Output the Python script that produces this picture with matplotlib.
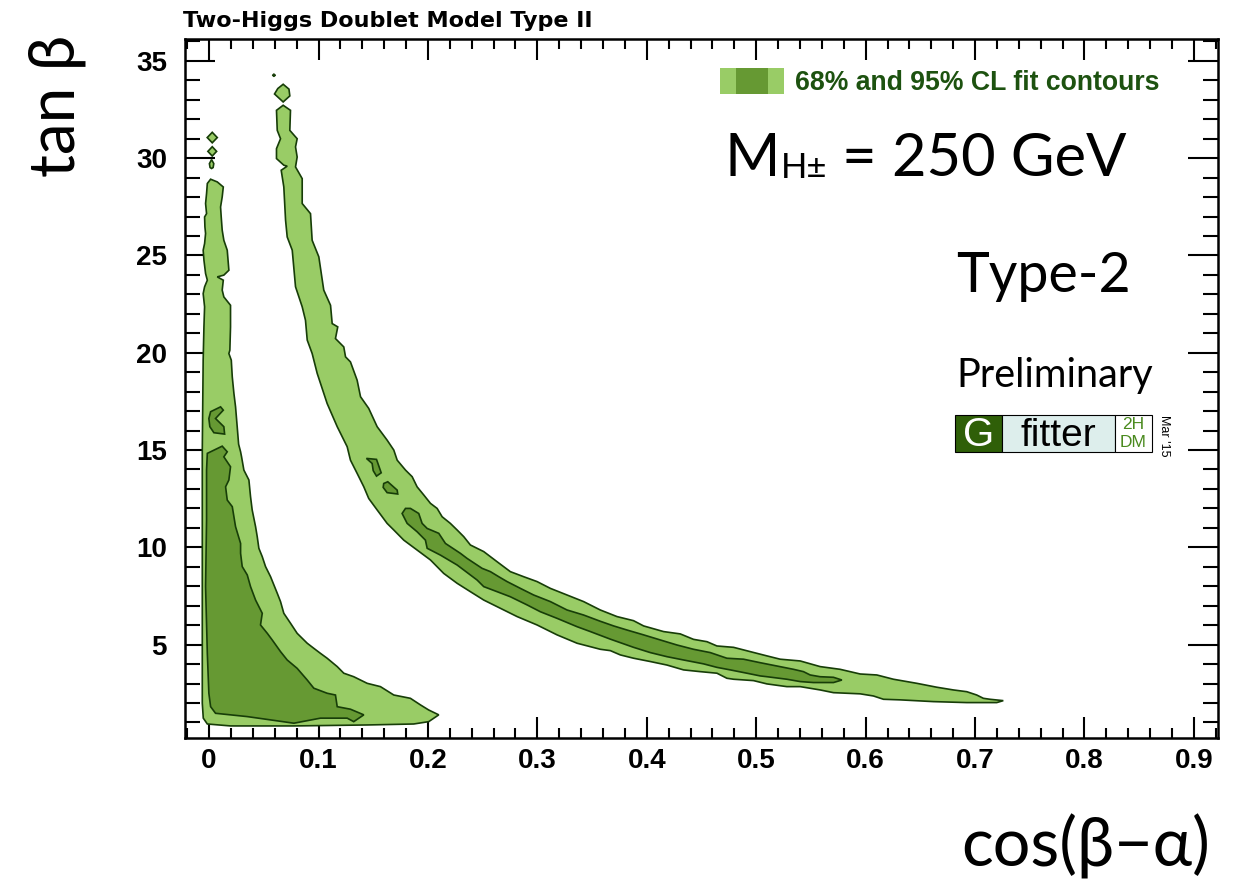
import matplotlib
matplotlib.use("Agg")
import matplotlib.pyplot as plt
from matplotlib.patches import Rectangle
from matplotlib.legend_handler import HandlerBase
from matplotlib.ticker import MultipleLocator, FixedLocator, FuncFormatter

# ---------------- data ----------------
title = "Two-Higgs Doublet Model Type II"
x_label = "cos(β−α)"
y_label = "tan β"
legend_label = "68% and 95% CL fit contours"
x_major_ticks = [0, 0.1, 0.2, 0.3, 0.4, 0.5, 0.6, 0.7, 0.8, 0.9]
y_major_ticks = [5, 10, 15, 20, 25, 30, 35]

# 95% CL region near alignment limit (light)
left95_x = [0.0014, 0.0075, 0.013, 0.012, 0.0105, 0.0111, 0.012, 0.0135, 0.0166, 0.0181, 0.0135, 0.0075,
            0.013, 0.012, 0.0135, 0.0196, 0.0196, 0.019, 0.0181, 0.0203, 0.0212, 0.0227, 0.0242, 0.0257,
            0.027, 0.0288, 0.0297, 0.0318, 0.0364, 0.0379, 0.0394, 0.0425, 0.044, 0.0455, 0.0486, 0.0516,
            0.0562, 0.0623, 0.0653, 0.0683, 0.0744, 0.0805, 0.0897, 0.0957, 0.1018, 0.1079, 0.1171, 0.1231,
            0.1322, 0.1445, 0.1566, 0.1688, 0.184, 0.1932, 0.2007, 0.2099, 0.2007, 0.187, 0.1445, 0.0775,
            0.0196, -0.0016, -0.0053, -0.0062, -0.0062, -0.0062, -0.0057, -0.0054, -0.0047, -0.0041, -0.0054,
            -0.0041, -0.0016, -0.0032, -0.0047, -0.0054, -0.0041, -0.0032, -0.0038, -0.0041, -0.0023, -0.0032,
            -0.0023, -0.0016]
left95_y = [28.92, 28.78, 28.52, 28.01, 27.49, 26.98, 26.30, 25.78, 25.27, 24.24, 23.99, 23.90,
            23.73, 23.22, 22.87, 22.44, 21.33, 20.13, 19.96, 19.62, 18.76, 17.91, 17.22, 16.20,
            15.30, 14.91, 14.65, 13.97, 13.46, 12.60, 11.92, 11.06, 10.55, 9.95, 9.52, 9.01,
            8.49, 7.64, 7.21, 6.61, 6.10, 5.58, 5.07, 4.81, 4.55, 4.30, 3.87, 3.53,
            3.35, 3.01, 2.84, 2.41, 2.24, 1.90, 1.64, 1.39, 1.04, 0.92, 0.87, 0.82,
            0.82, 0.92, 1.22, 1.99, 8.00, 15.00, 17.91, 19.62, 21.33, 22.36, 23.04,
            23.39, 23.73, 24.07, 24.76, 25.27, 25.61, 26.13, 26.47, 26.98, 27.15, 27.67,
            28.18, 28.70]

left95_isl1_x = [0.0029, 0.0075, 0.0029, -0.0017]
left95_isl1_y = [31.33, 31.06, 30.79, 31.06]
left95_isl2_x = [0.0029, 0.0069, 0.0029, -0.0011]
left95_isl2_y = [30.59, 30.35, 30.11, 30.35]
left95_isl3_x = [0.0023, 0.0043, 0.0037, 0.0023, 0.0009, 0.0003]
left95_isl3_y = [29.93, 29.72, 29.52, 29.47, 29.52, 29.72]

# 68% CL regions near alignment limit (dark)
left68_x = [0.012, 0.0166, 0.0135, 0.0196, 0.0181, 0.0151, 0.0166, 0.0212, 0.0242, 0.0288, 0.0288, 0.0303,
            0.0349, 0.0379, 0.0425, 0.0486, 0.047, 0.0532, 0.0577, 0.0653, 0.0714, 0.0805, 0.0897, 0.0957,
            0.1079, 0.1155, 0.1171, 0.1292, 0.1414, 0.1322, 0.1262, 0.1018, 0.0775, 0.0349, 0.0059, 0.0014,
            -0.0002, -0.0016, -0.0032, -0.0023, -0.0023, -0.0016]
left68_y = [15.20, 14.91, 14.65, 14.14, 13.46, 13.11, 12.43, 12.09, 11.06, 10.20, 9.69, 9.01,
            8.58, 7.98, 7.29, 6.61, 6.01, 5.58, 5.24, 4.64, 4.21, 3.78, 3.18, 2.76,
            2.50, 2.41, 1.81, 1.68, 1.39, 1.04, 1.22, 1.22, 0.96, 1.30, 1.47, 1.81,
            2.50, 4.55, 7.98, 11.40, 13.97, 14.83]
left68_isl_x = [0.0014, 0.0105, 0.013, 0.0059, 0.0135, 0.0142, 0.0044, 0.0007, -0.0002]
left68_isl_y = [16.97, 17.22, 17.05, 16.62, 16.20, 15.82, 15.89, 16.20, 16.62]

# 95% CL wrong-sign band (light)
right95_x = [0.0677, 0.0744, 0.0738, 0.0805, 0.079, 0.0805, 0.079, 0.0851, 0.0851, 0.0927, 0.0942, 0.1003,
             0.1048, 0.111, 0.1125, 0.1176, 0.1155, 0.1231, 0.1247, 0.1292, 0.1353, 0.1384, 0.1459, 0.1536,
             0.1627, 0.1688, 0.1719, 0.1795, 0.1856, 0.1901, 0.1962, 0.2023, 0.2084, 0.213, 0.2205, 0.2267,
             0.2327, 0.2388, 0.251, 0.2632, 0.2753, 0.2875, 0.2997, 0.3119, 0.3271, 0.3423, 0.3575, 0.3728,
             0.3879, 0.3971, 0.4153, 0.4306, 0.4427, 0.455, 0.4641, 0.4793, 0.4945, 0.5098, 0.5219, 0.5402,
             0.5584, 0.5767, 0.595, 0.6102, 0.6254, 0.6468, 0.665, 0.6802, 0.6924, 0.7015, 0.7076, 0.7137,
             0.7258,
             0.7198, 0.6924, 0.6619, 0.6315, 0.6163, 0.6071, 0.595, 0.5706, 0.5584, 0.5402, 0.528, 0.5098,
             0.4975, 0.4793, 0.4732, 0.4641, 0.4489, 0.4336, 0.4184, 0.4032, 0.3879, 0.3758, 0.3667, 0.3575,
             0.3363, 0.318, 0.2997, 0.2815, 0.2632, 0.251, 0.2388, 0.2267, 0.2144, 0.2023, 0.1901, 0.1779,
             0.1688, 0.1627, 0.1536, 0.1459, 0.1414, 0.1353, 0.1292, 0.1262, 0.1171, 0.1079, 0.0988, 0.0942,
             0.0897, 0.0881, 0.0851, 0.079, 0.076, 0.0714, 0.0699, 0.0683, 0.0659, 0.0714, 0.0683, 0.0616,
             0.0616, 0.0653, 0.0623, 0.0616]
right95_y = [32.72, 32.46, 31.43, 31.00, 30.58, 30.06, 29.55, 28.95, 27.67, 27.15, 25.78, 24.93,
             23.22, 22.44, 21.50, 21.33, 20.73, 20.30, 19.79, 19.53, 18.59, 17.74, 17.14, 16.20,
             15.51, 15.00, 14.48, 13.97, 13.63, 13.11, 12.69, 12.26, 12.00, 11.57, 11.23, 10.89,
             10.55, 10.12, 9.78, 9.26, 8.75, 8.49, 8.24, 7.89, 7.55, 7.21, 6.78, 6.44,
             6.23, 5.96, 5.67, 5.55, 5.27, 5.15, 4.93, 4.86, 4.64, 4.42, 4.25, 4.16,
             3.87, 3.73, 3.49, 3.44, 3.22, 3.01, 2.81, 2.67, 2.58, 2.41, 2.24, 2.19,
             2.12,
             2.02, 2.02, 2.07, 2.16, 2.19, 2.36, 2.47, 2.53, 2.67, 2.84, 2.84, 2.98,
             3.15, 3.22, 3.27, 3.53, 3.61, 3.70, 3.95, 4.13, 4.30, 4.47, 4.69, 4.76,
             5.07, 5.50, 6.01, 6.44, 6.95, 7.29, 7.72, 8.15, 8.66, 9.35, 9.86, 10.37,
             10.89, 11.23, 11.92, 12.51, 13.11, 13.80, 14.48, 15.17, 16.20, 17.39, 18.94, 19.96,
             20.65, 21.67, 22.36, 23.39, 25.27, 25.95, 26.81, 28.52, 29.38, 29.59, 29.64, 29.98,
             30.49, 31.00, 31.43, 32.46]
right95_isl_x = [0.0677, 0.0730, 0.0738, 0.0677, 0.0598, 0.0628]
right95_isl_y = [33.80, 33.55, 33.20, 32.89, 33.30, 33.58]
right95_dot_x = [0.0578, 0.0592, 0.0608, 0.0592]
right95_dot_y = [34.26, 34.34, 34.26, 34.19]

# 68% CL wrong-sign band (dark)
right68_x = [0.1795, 0.184, 0.1916, 0.1947, 0.1993, 0.2099, 0.216, 0.2297, 0.2358, 0.2495, 0.2571, 0.2647,
             0.2723, 0.2845, 0.2966, 0.3119, 0.3271, 0.3423, 0.3575, 0.3697, 0.3819, 0.3971, 0.4123, 0.4276,
             0.4427, 0.458, 0.4732, 0.4884, 0.5037, 0.5189, 0.5341, 0.5432, 0.5493, 0.5584, 0.5706, 0.5783,
             0.5706, 0.5523, 0.5402, 0.528, 0.5098, 0.5037, 0.4915, 0.4763, 0.4641, 0.4519, 0.4336, 0.4184,
             0.4032, 0.3879, 0.3758, 0.3667, 0.3484, 0.3363, 0.318, 0.3027, 0.2906, 0.2753, 0.2632, 0.251,
             0.2449, 0.2267, 0.2114, 0.1993, 0.1977, 0.1901, 0.181, 0.1764]
right68_y = [12.00, 12.00, 11.74, 11.23, 10.97, 10.72, 10.20, 9.69, 9.43, 8.92, 8.75, 8.49,
             8.24, 7.89, 7.55, 7.21, 6.78, 6.52, 6.20, 5.96, 5.75, 5.50, 5.24, 4.98,
             4.76, 4.59, 4.30, 4.25, 4.07, 3.90, 3.73, 3.61, 3.44, 3.35, 3.32, 3.18,
             3.05, 3.05, 3.10, 3.22, 3.35, 3.39, 3.53, 3.70, 3.83, 4.01, 4.21, 4.38,
             4.59, 4.86, 5.10, 5.28, 5.67, 5.92, 6.35, 6.69, 7.04, 7.46, 7.72, 7.98,
             8.32, 9.09, 9.60, 9.95, 10.37, 10.80, 11.23, 11.74]
right68_isl1_x = [0.1438, 0.153, 0.1573, 0.153, 0.150, 0.149]
right68_isl1_y = [14.57, 14.52, 13.83, 13.66, 13.94, 14.31]
right68_isl2_x = [0.1596, 0.1633, 0.1719, 0.1724, 0.1627, 0.1591]
right68_isl2_y = [13.28, 13.37, 12.94, 12.74, 12.81, 13.08]

# ---------------- style ----------------
LIGHT = "#99cc66"
DARK = "#669933"
EDGE = "#173d08"
TXTGREEN = "#1d5210"
W, H = 1235, 880

def fx(px):
    return px / W

def fy(py):
    return 1 - py / H

fig = plt.figure(figsize=(W / 100, H / 100), dpi=100)
ax = fig.add_axes([fx(185), fy(738), (1218 - 185) / W, (738 - 39.5) / H])
ax.set_xlim(-0.022, 0.922)
ax.set_ylim(0.2, 36.1)

light_regions = [(left95_x, left95_y), (left95_isl1_x, left95_isl1_y), (left95_isl2_x, left95_isl2_y),
                 (left95_isl3_x, left95_isl3_y), (right95_x, right95_y), (right95_isl_x, right95_isl_y)]
dark_regions = [(left68_x, left68_y), (left68_isl_x, left68_isl_y), (right68_x, right68_y),
                (right68_isl1_x, right68_isl1_y), (right68_isl2_x, right68_isl2_y)]
for xs, ys in light_regions:
    ax.fill(xs, ys, facecolor=LIGHT, edgecolor=EDGE, linewidth=1.2, zorder=2)
for xs, ys in dark_regions:
    ax.fill(xs, ys, facecolor=DARK, edgecolor=EDGE, linewidth=1.2, zorder=3)
ax.fill(right95_dot_x, right95_dot_y, facecolor=EDGE, edgecolor=EDGE, linewidth=0.8, zorder=3)

# axes / ticks
for s in ax.spines.values():
    s.set_linewidth(1.8)
ax.xaxis.set_major_locator(FixedLocator(x_major_ticks))
ax.xaxis.set_minor_locator(MultipleLocator(0.02))
ax.yaxis.set_major_locator(FixedLocator(y_major_ticks))
ax.yaxis.set_minor_locator(MultipleLocator(1))
ax.xaxis.set_major_formatter(FuncFormatter(lambda v, p: "%g" % round(v, 2)))
ax.yaxis.set_major_formatter(FuncFormatter(lambda v, p: "%d" % v))
ax.tick_params(which="both", direction="in", top=True, right=True, width=1.5, color="black")
ax.tick_params(axis="x", which="major", length=15, pad=7)
ax.tick_params(axis="x", which="minor", length=7.5)
ax.tick_params(axis="y", which="major", length=21.5, pad=13)
ax.tick_params(axis="y", which="minor", length=11)
for lab in ax.get_xticklabels() + ax.get_yticklabels():
    lab.set_fontfamily("Liberation Sans")
    lab.set_fontweight("bold")
    lab.set_fontsize(20)

# title and axis labels
fig.text(fx(183), fy(27), title, fontsize=16, fontweight="bold", family="DejaVu Sans",
         ha="left", va="baseline")
GILL = ["Lato", "Open Sans", "DejaVu Sans"]
fig.text(fx(57), fy(106), y_label, fontsize=46, family=GILL, rotation=90, ha="center", va="center")
fig.text(fx(1210), fy(866), x_label, fontsize=48, family=GILL, ha="right", va="baseline")

# legend
class TriBar:
    pass

class TriHandler(HandlerBase):
    def create_artists(self, legend, orig_handle, xdescent, ydescent, width, height, fontsize, trans):
        r1 = Rectangle((-xdescent, -ydescent), width, height, facecolor=LIGHT, edgecolor="none",
                       transform=trans)
        r2 = Rectangle((-xdescent + 0.25 * width, -ydescent), 0.5 * width, height, facecolor=DARK,
                       edgecolor="none", transform=trans)
        return [r1, r2]

fig.legend(handles=[TriBar()], labels=[legend_label], handler_map={TriBar: TriHandler()},
           loc="upper left", bbox_to_anchor=(fx(720), fy(68)), frameon=False, borderpad=0,
           borderaxespad=0, handlelength=2.4, handleheight=1.1, handletextpad=0.42,
           labelcolor=TXTGREEN, prop={"family": "Liberation Sans", "weight": "bold", "size": 19.2})

# annotations
fig.text(fx(724), fy(176), "M", fontsize=43, family=GILL, ha="left", va="baseline")
fig.text(fx(781), fy(178), "H±", fontsize=25, family=GILL, ha="left", va="baseline")
fig.text(fx(842), fy(176), "= 250 GeV", fontsize=43, family=GILL, ha="left", va="baseline")
fig.text(fx(956), fy(292), "Type-2", fontsize=40, family=GILL, ha="left", va="baseline")
fig.text(fx(956), fy(387), "Preliminary", fontsize=28.5, family=GILL, ha="left", va="baseline")

# Gfitter logo
ytop, ybot = 415, 452
boxes = [(955, 1002, "#2f5f08"), (1002, 1115, "#ddeeec"), (1115, 1152, "white")]
for x0, x1, c in boxes:
    fig.add_artist(Rectangle((fx(x0), fy(ybot)), (x1 - x0) / W, (ybot - ytop) / H,
                             transform=fig.transFigure, facecolor=c, edgecolor="black", linewidth=0.8))
fig.text(fx(978.5), fy(435), "G", fontsize=29, color="white", family="Liberation Sans",
         ha="center", va="center")
fig.text(fx(1058), fy(436), "fitter", fontsize=28, color="black", family="Liberation Sans",
         ha="center", va="center")
fig.text(fx(1133.5), fy(424.5), "2H", fontsize=12.5, color="#4a8a1e", family="Liberation Sans",
         ha="center", va="center")
fig.text(fx(1133.5), fy(442.5), "DM", fontsize=12.5, color="#4a8a1e", family="Liberation Sans",
         ha="center", va="center")
fig.text(fx(1164), fy(436), "Mar '15", fontsize=9, color="black", family="Liberation Sans",
         rotation=-90, ha="center", va="center")

fig.savefig("out.png", dpi=100)
